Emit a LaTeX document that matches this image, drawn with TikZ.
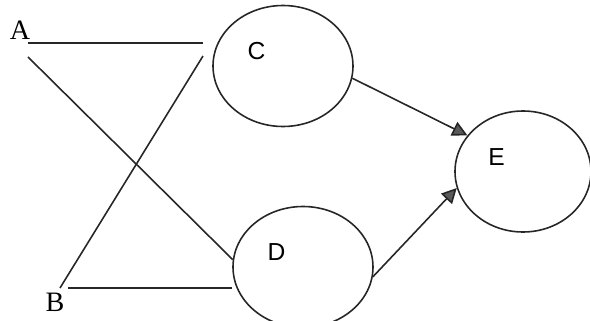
\documentclass[tikz,border=0pt]{standalone}
\usepackage{fontspec}
\setmainfont{Liberation Serif}
\newfontfamily\blobfont{Liberation Sans}
\usetikzlibrary{calc, positioning}
\usetikzlibrary{arrows.meta}
\usetikzlibrary{shapes.geometric}

\tikzset{
  link/.style={line width=0.9pt, draw=black!85},
  blob/.style={ellipse, draw=black!85, line width=0.9pt, inner sep=0pt,
    minimum width=2.8cm, minimum height=2.42cm,
    label={[font=\blobfont\fontsize{14}{16}\selectfont, xshift=-0.53cm, yshift=0.29cm]center:#1}},
  tip/.style={-{Triangle[length=3mm, width=3mm, fill=black!65]}, line width=0.9pt, draw=black!85}
}

\begin{document}
\begin{tikzpicture}
\useasboundingbox (0,0) rectangle (11.8,6.4);
\clip (0,0) rectangle (11.8,6.4);

\node[font=\fontsize{16}{18}\selectfont] (A) at (0.40,5.80) {A};
\node[font=\fontsize{16}{18}\selectfont] (B) at (1.10,0.36) {B};

\node[blob=C] (C) at (5.66,5.08) {};
\node[blob=D] (D) at (6.06,1.06) {};
\node[blob=E, minimum width=2.72cm] (E) at (10.46,2.97) {};

\coordinate (a1) at (0.56,5.54);
\coordinate (a2) at (0.56,5.26);
\coordinate (b1) at (1.20,0.64);
\coordinate (b2) at (1.36,0.64);
\coordinate (c1) at (4.06,5.54);
\coordinate (c2) at (4.06,5.28);

\draw[link] (a1) -- (c1);
\draw[link] (a2) -- (D.174);
\draw[link] (b1) -- (c2);
\draw[link] (b2) -- (b2 -| D.west);

\draw[tip] (C.-10) -- (E.147);
\draw[tip] (D.-8) -- (E.194);
\end{tikzpicture}
\end{document}
